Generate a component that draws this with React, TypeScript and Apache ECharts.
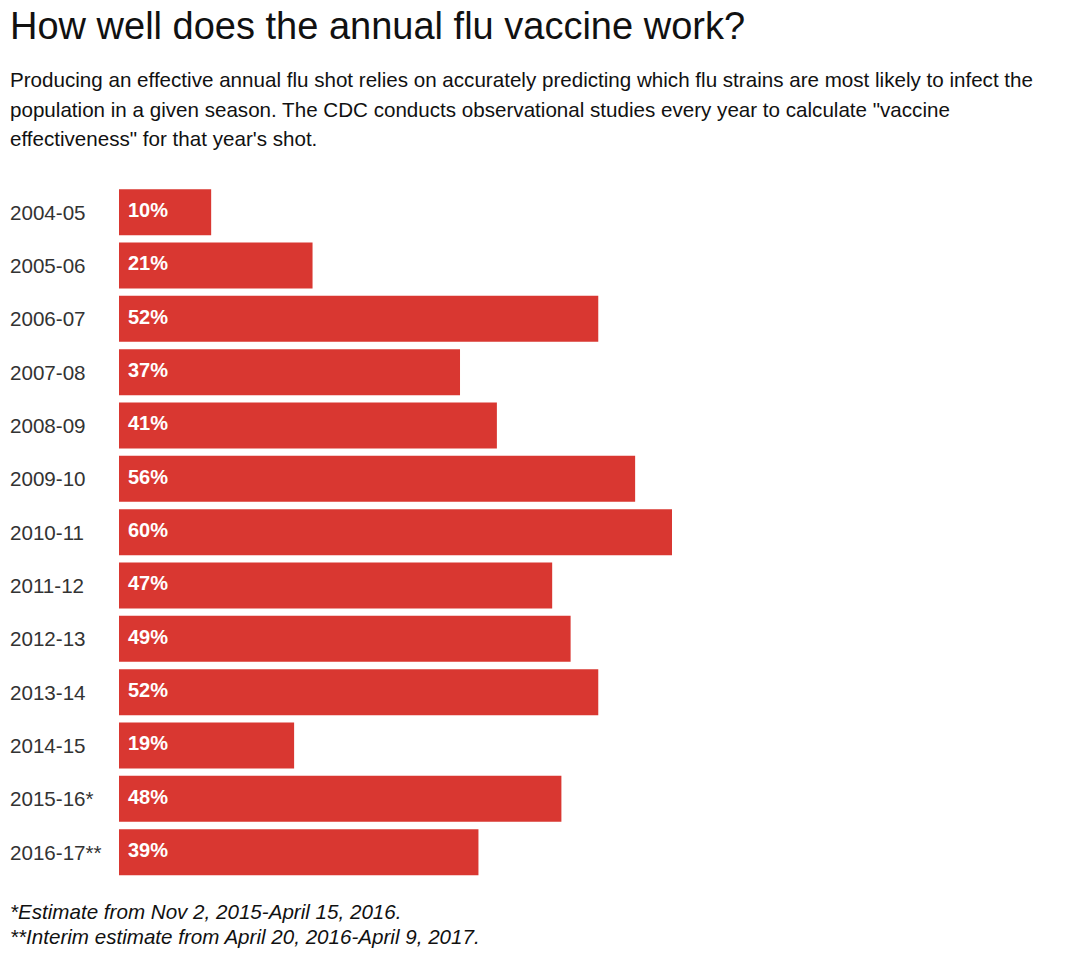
import React, { useEffect, useRef } from "react";
import * as echarts from "echarts";

const seasons = [
  "2004-05", "2005-06", "2006-07", "2007-08", "2008-09", "2009-10", "2010-11",
  "2011-12", "2012-13", "2013-14", "2014-15", "2015-16*", "2016-17**",
];
const effectiveness = [10, 21, 52, 37, 41, 56, 60, 47, 49, 52, 19, 48, 39];

const titleText = "How well does the annual flu vaccine work?";
const subtitleLines = [
  "Producing an effective annual flu shot relies on accurately predicting which flu strains are most likely to infect the",
  "population in a given season. The CDC conducts observational studies every year to calculate \"vaccine",
  "effectiveness\" for that year's shot.",
];
const footnoteLines = [
  "*Estimate from Nov 2, 2015-April 15, 2016.",
  "**Interim estimate from April 20, 2016-April 9, 2017.",
];

const FONT = "'Liberation Sans', Arial, Helvetica, sans-serif";

export default function App() {
  const ref = useRef<HTMLDivElement>(null);
  useEffect(() => {
    document.body.style.margin = "0";
    const chart = echarts.init(ref.current!, null, { renderer: "svg" });
    chart.setOption({
      animation: false,
      backgroundColor: "#ffffff",
      textStyle: { fontFamily: FONT },
      graphic: [
        {
          type: "text",
          left: 10,
          top: 7,
          style: {
            text: titleText,
            font: `300 38px ${FONT}`,
            fill: "#111111",
          },
        },
        {
          type: "text",
          left: 10,
          top: 65,
          style: {
            text: subtitleLines.join("\n"),
            font: `20.6px ${FONT}`,
            lineHeight: 29.5,
            fill: "#111111",
          },
        },
        {
          type: "text",
          left: 10,
          top: 899,
          style: {
            text: footnoteLines.join("\n"),
            font: `italic 20.6px ${FONT}`,
            lineHeight: 25,
            fill: "#111111",
          },
        },
      ],
      grid: { left: 119, top: 185.5, width: 553, height: 693.3, containLabel: false },
      xAxis: {
        type: "value",
        min: 0,
        max: 60,
        show: false,
      },
      yAxis: {
        type: "category",
        data: seasons,
        inverse: true,
        axisLine: { show: false },
        axisTick: { show: false },
        axisLabel: {
          align: "left",
          margin: 109,
          fontSize: 20.6,
          color: "#333333",
          fontFamily: FONT,
        },
      },
      series: [
        {
          type: "bar",
          data: effectiveness,
          barWidth: 46,
          itemStyle: { color: "#d93731" },
          label: {
            show: true,
            position: "insideLeft",
            distance: 9,
            formatter: "{c}%",
            color: "#ffffff",
            fontWeight: "bold",
            fontSize: 20,
            fontFamily: FONT,
            offset: [0, -2],
          },
        },
      ],
    });
    return () => chart.dispose();
  }, []);
  return <div ref={ref} style={{ width: 1068, height: 956 }} />;
}
